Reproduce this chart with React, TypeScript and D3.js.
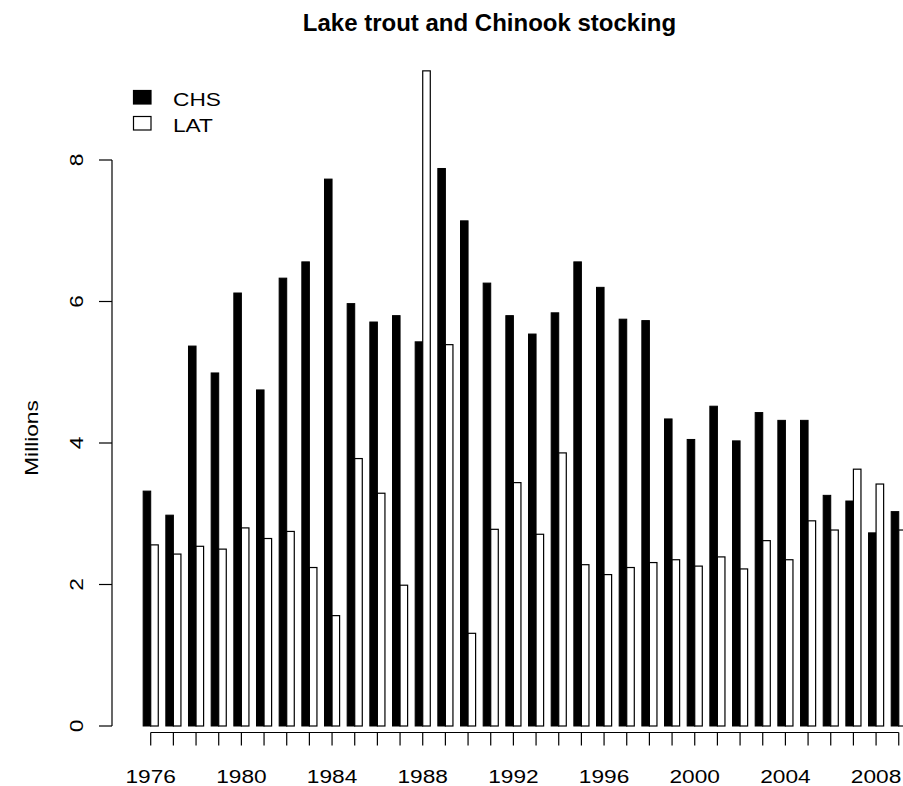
import React from "react";
import * as d3 from "d3";

const years = [1976, 1977, 1978, 1979, 1980, 1981, 1982, 1983, 1984, 1985, 1986, 1987, 1988, 1989, 1990, 1991, 1992, 1993, 1994, 1995, 1996, 1997, 1998, 1999, 2000, 2001, 2002, 2003, 2004, 2005, 2006, 2007, 2008, 2009];
const chs = [3.32, 2.98, 5.37, 4.99, 6.12, 4.75, 6.33, 6.56, 7.73, 5.97, 5.71, 5.80, 5.43, 7.88, 7.14, 6.26, 5.80, 5.54, 5.84, 6.56, 6.20, 5.75, 5.73, 4.34, 4.05, 4.52, 4.03, 4.43, 4.32, 4.32, 3.26, 3.18, 2.73, 3.03];
const lat = [2.56, 2.43, 2.54, 2.50, 2.80, 2.65, 2.75, 2.24, 1.56, 3.78, 3.29, 1.99, 9.26, 5.39, 1.31, 2.78, 3.44, 2.71, 3.86, 2.28, 2.14, 2.24, 2.31, 2.35, 2.26, 2.39, 2.22, 2.62, 2.35, 2.90, 2.77, 3.63, 3.42, 2.77];
const yTicks = [0, 2, 4, 6, 8];
const xLabelYears = [1976, 1980, 1984, 1988, 1992, 1996, 2000, 2004, 2008];
const seriesNames = ["CHS", "LAT"];

const W = 903;
const H = 786;
const FONT = "'Liberation Sans', Arial, Helvetica, sans-serif";
const FS = 18.6; // regular text size
const SX = 1.22; // horizontal stretch of regular text

export default function App() {
  // R barplot units: group i spans [3i+1, 3i+3]
  const x = d3.scaleLinear().domain([0, years.length * 3]).range([135.6, 906.3]);
  const y = d3.scaleLinear().domain([0, 8]).range([726, 160]);
  const center = (i: number) => x(3 * i + 2);
  const axisY = 732.5;
  const axisX = 112;
  const tickLen = 13;

  return (
    <svg
      width={W}
      height={H}
      viewBox={`0 0 ${W} ${H}`}
      style={{ position: "absolute", left: 0, top: 0, display: "block", background: "#fff" }}
    >
      <rect x={0} y={0} width={W} height={H} fill="#fff" />
      <text x={489.5} y={31} textAnchor="middle" fontFamily={FONT} fontWeight="bold" fontSize={24} fill="#000">
        Lake trout and Chinook stocking
      </text>

      {/* bars */}
      <g>
        {years.map((yr, i) => (
          <g key={yr}>
            <rect
              x={x(3 * i + 1)}
              y={y(chs[i])}
              width={x(3 * i + 2) - x(3 * i + 1)}
              height={y(0) - y(chs[i])}
              fill="#000"
              stroke="#000"
              strokeWidth={1}
            />
            <rect
              x={x(3 * i + 2)}
              y={y(lat[i])}
              width={x(3 * i + 3) - x(3 * i + 2)}
              height={y(0) - y(lat[i])}
              fill="#fff"
              stroke="#000"
              strokeWidth={1.2}
            />
          </g>
        ))}
      </g>

      {/* y axis */}
      <g>
        <line x1={axisX} x2={axisX} y1={y(8)} y2={y(0)} stroke="#000" strokeWidth={1.2} />
        {yTicks.map((t) => (
          <g key={t}>
            <line x1={axisX - tickLen} x2={axisX} y1={y(t)} y2={y(t)} stroke="#000" strokeWidth={1.2} />
            <text
              transform={`translate(83,${y(t)}) rotate(-90) scale(${SX},1)`}
              textAnchor="middle"
              fontFamily={FONT}
              fontSize={FS}
              fill="#000"
            >
              {t}
            </text>
          </g>
        ))}
        <text
          transform={`translate(38,${(y(0) + y(8)) / 2 - 5}) rotate(-90) scale(${SX},1)`}
          textAnchor="middle"
          fontFamily={FONT}
          fontSize={FS}
          fill="#000"
        >
          Millions
        </text>
      </g>

      {/* x axis */}
      <g>
        <line x1={center(0)} x2={center(years.length - 1)} y1={axisY} y2={axisY} stroke="#000" strokeWidth={1.2} />
        {years.map((yr, i) => (
          <line key={yr} x1={center(i)} x2={center(i)} y1={axisY} y2={axisY + tickLen} stroke="#000" strokeWidth={1.2} />
        ))}
        {xLabelYears.map((yr) => (
          <text
            key={yr}
            transform={`translate(${center(years.indexOf(yr))},782.5) scale(${SX},1)`}
            textAnchor="middle"
            fontFamily={FONT}
            fontSize={FS}
            fill="#000"
          >
            {yr}
          </text>
        ))}
      </g>

      {/* legend */}
      <g>
        {seriesNames.map((s, k) => (
          <g key={s}>
            <rect
              x={133.5}
              y={90.5 + k * 26}
              width={17.5}
              height={13.5}
              fill={k === 0 ? "#000" : "#fff"}
              stroke="#000"
              strokeWidth={1.2}
            />
            <text
              transform={`translate(173,${105.7 + k * 26}) scale(${SX},1)`}
              fontFamily={FONT}
              fontSize={FS}
              fill="#000"
            >
              {s}
            </text>
          </g>
        ))}
      </g>
    </svg>
  );
}
